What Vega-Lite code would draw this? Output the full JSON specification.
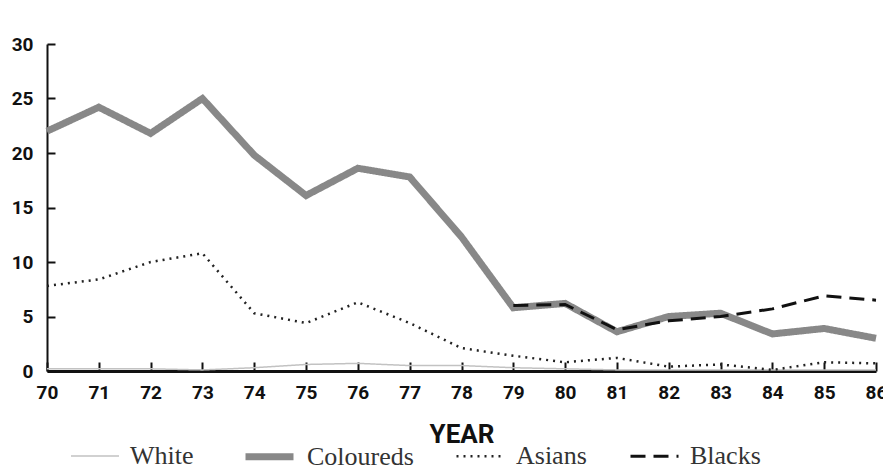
{
  "$schema": "https://vega.github.io/schema/vega-lite/v6.json",
  "width": 829,
  "height": 327,
  "autosize": {"type": "none"},
  "padding": {"left": 47, "top": 44, "right": 7, "bottom": 99},
  "background": "white",
  "config": {"view": {"stroke": null}},
  "data": {"values": [
    {"year": 70, "group": "White", "v": 0.2},
    {"year": 71, "group": "White", "v": 0.2},
    {"year": 72, "group": "White", "v": 0.2},
    {"year": 73, "group": "White", "v": 0.1},
    {"year": 74, "group": "White", "v": 0.3},
    {"year": 75, "group": "White", "v": 0.6},
    {"year": 76, "group": "White", "v": 0.7},
    {"year": 77, "group": "White", "v": 0.5},
    {"year": 78, "group": "White", "v": 0.5},
    {"year": 79, "group": "White", "v": 0.3},
    {"year": 80, "group": "White", "v": 0.2},
    {"year": 81, "group": "White", "v": 0.1},
    {"year": 82, "group": "White", "v": 0.1},
    {"year": 83, "group": "White", "v": 0.1},
    {"year": 84, "group": "White", "v": 0.1},
    {"year": 85, "group": "White", "v": 0.1},
    {"year": 86, "group": "White", "v": 0.1},
    {"year": 70, "group": "Coloureds", "v": 22.0},
    {"year": 71, "group": "Coloureds", "v": 24.2},
    {"year": 72, "group": "Coloureds", "v": 21.8},
    {"year": 73, "group": "Coloureds", "v": 25.0},
    {"year": 74, "group": "Coloureds", "v": 19.8},
    {"year": 75, "group": "Coloureds", "v": 16.1},
    {"year": 76, "group": "Coloureds", "v": 18.6},
    {"year": 77, "group": "Coloureds", "v": 17.8},
    {"year": 78, "group": "Coloureds", "v": 12.3},
    {"year": 79, "group": "Coloureds", "v": 5.8},
    {"year": 80, "group": "Coloureds", "v": 6.2},
    {"year": 81, "group": "Coloureds", "v": 3.6},
    {"year": 82, "group": "Coloureds", "v": 5.0},
    {"year": 83, "group": "Coloureds", "v": 5.3},
    {"year": 84, "group": "Coloureds", "v": 3.4},
    {"year": 85, "group": "Coloureds", "v": 3.9},
    {"year": 86, "group": "Coloureds", "v": 3.0},
    {"year": 70, "group": "Asians", "v": 7.8},
    {"year": 71, "group": "Asians", "v": 8.4},
    {"year": 72, "group": "Asians", "v": 10.0},
    {"year": 73, "group": "Asians", "v": 10.8},
    {"year": 74, "group": "Asians", "v": 5.3},
    {"year": 75, "group": "Asians", "v": 4.4},
    {"year": 76, "group": "Asians", "v": 6.3},
    {"year": 77, "group": "Asians", "v": 4.4},
    {"year": 78, "group": "Asians", "v": 2.1},
    {"year": 79, "group": "Asians", "v": 1.4},
    {"year": 80, "group": "Asians", "v": 0.8},
    {"year": 81, "group": "Asians", "v": 1.2},
    {"year": 82, "group": "Asians", "v": 0.4},
    {"year": 83, "group": "Asians", "v": 0.6},
    {"year": 84, "group": "Asians", "v": 0.1},
    {"year": 85, "group": "Asians", "v": 0.8},
    {"year": 86, "group": "Asians", "v": 0.7},
    {"year": 79, "group": "Blacks", "v": 6.0},
    {"year": 80, "group": "Blacks", "v": 6.1},
    {"year": 81, "group": "Blacks", "v": 3.8},
    {"year": 82, "group": "Blacks", "v": 4.6},
    {"year": 83, "group": "Blacks", "v": 5.0},
    {"year": 84, "group": "Blacks", "v": 5.7},
    {"year": 85, "group": "Blacks", "v": 6.9},
    {"year": 86, "group": "Blacks", "v": 6.5}
  ]},
  "mark": {"type": "line", "strokeJoin": "miter"},
  "encoding": {
    "x": {
      "field": "year", "type": "quantitative",
      "scale": {"domain": [70, 86], "nice": false, "zero": false},
      "axis": {
        "values": [70,71,72,73,74,75,76,77,78,79,80,81,82,83,84,85,86],
        "format": "d", "grid": false, "title": "YEAR",
        "domainColor": "#111", "domainWidth": 3,
        "tickColor": "#111", "tickWidth": 2, "tickSize": -9,
        "labelPadding": 21, "labelFont": "Roboto",
        "labelFontWeight": "bold", "labelFontSize": 19, "labelColor": "#111",
        "labelFlush": false,
        "titleFont": "Roboto",
        "titleFontWeight": "bold", "titleFontSize": 26, "titleColor": "#111",
        "titlePadding": 19
      }
    },
    "y": {
      "field": "v", "type": "quantitative",
      "scale": {"domain": [0, 30], "nice": false},
      "axis": {
        "values": [0, 5, 10, 15, 20, 25, 30],
        "grid": false, "title": null,
        "domainColor": "#111", "domainWidth": 2,
        "tickColor": "#111", "tickWidth": 2, "tickSize": -8,
        "labelPadding": 22, "labelFont": "Roboto",
        "labelFontWeight": "bold", "labelFontSize": 19, "labelColor": "#111"
      }
    },
    "color": {
      "field": "group", "type": "nominal",
      "scale": {"domain": ["White", "Coloureds", "Asians", "Blacks"], "range": ["#c2c2c2", "#888888", "#222222", "#111111"]},
      "legend": {
        "title": null, "orient": "none", "direction": "horizontal",
        "legendX": 23, "legendY": 385,
        "symbolType": "stroke", "symbolSize": 2304,
        "labelFont": "Liberation Serif", "labelFontSize": 26, "labelColor": "#333",
        "labelOffset": 10, "columnPadding": 37, "padding": 0
      }
    },
    "strokeDash": {
      "field": "group", "type": "nominal",
      "scale": {"domain": ["White", "Coloureds", "Asians", "Blacks"], "range": [[1, 0], [1, 0], [2, 5], [15, 8]]}
    },
    "strokeWidth": {
      "field": "group", "type": "ordinal",
      "scale": {"type": "ordinal", "domain": ["White", "Coloureds", "Asians", "Blacks"], "range": [1.5, 7, 2.5, 3]}
    }
  }
}
